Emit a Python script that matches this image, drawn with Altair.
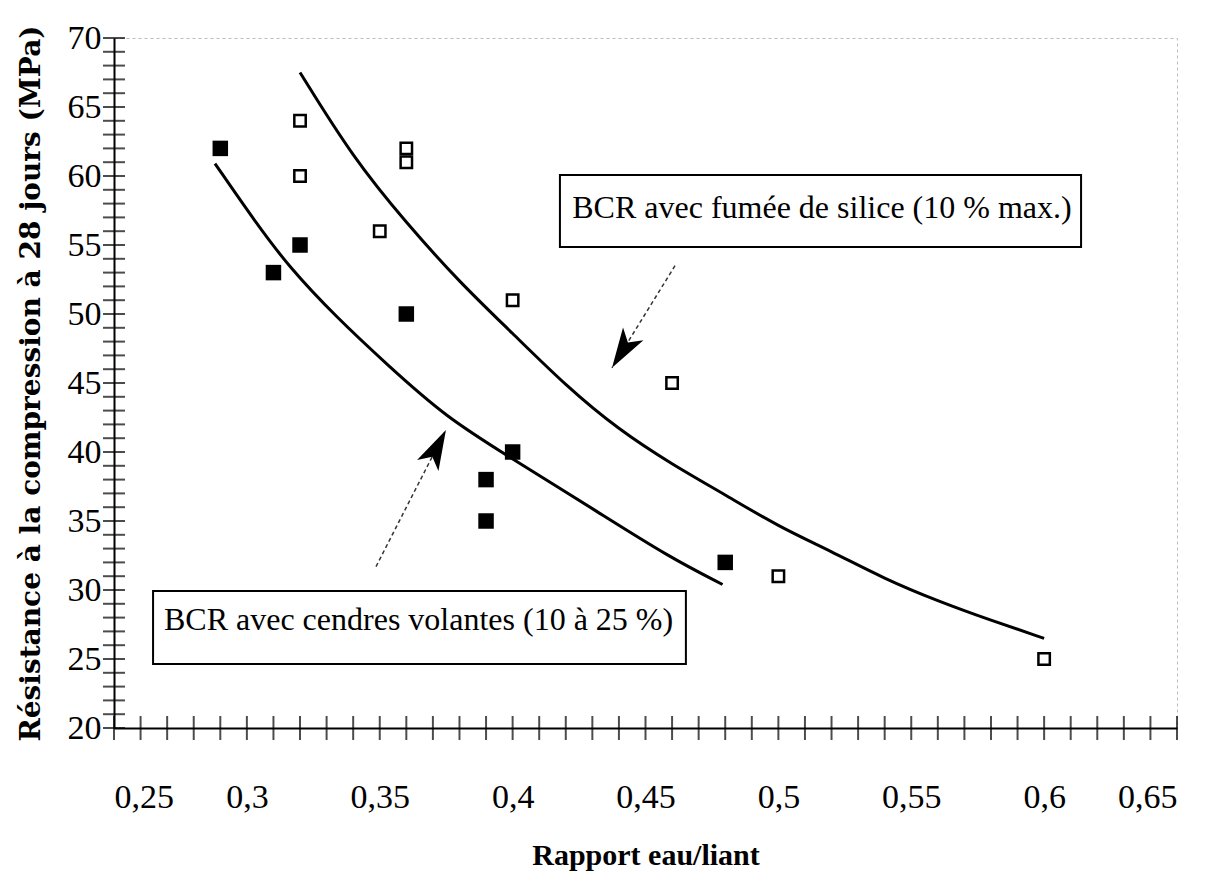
import altair as alt
import pandas as pd

# ---------------- data ----------------
# Filled squares : BCR avec cendres volantes
cv_x = [0.29, 0.31, 0.32, 0.36, 0.39, 0.39, 0.40, 0.48]
cv_y = [62, 53, 55, 50, 38, 35, 40, 32]

# Open squares : BCR avec fumée de silice
fs_x = [0.32, 0.32, 0.35, 0.36, 0.36, 0.36, 0.40, 0.46, 0.50, 0.60]
fs_y = [64, 60, 56, 62, 61, 50, 51, 45, 31, 25]

# Trend curve (fumée de silice)
fs_curve_x = [0.32, 0.34, 0.36, 0.38, 0.40, 0.42, 0.44, 0.46, 0.48, 0.50, 0.52, 0.54, 0.56, 0.58, 0.60]
fs_curve_y = [67.5, 61.3, 56.6, 52.3, 48.6, 44.8, 41.6, 39.1, 36.9, 34.6, 32.8, 30.8, 29.2, 27.8, 26.5]

# Trend curve (cendres volantes)
cv_curve_x = [0.288, 0.3034, 0.3159, 0.3335, 0.3524, 0.375, 0.40, 0.4325, 0.4588, 0.479]
cv_curve_y = [60.9, 56.6, 53.4, 49.8, 46.4, 42.5, 39.5, 35.6, 32.4, 30.4]

# Axis tick values / labels
x_major = [0.25, 0.30, 0.35, 0.40, 0.45, 0.50, 0.55, 0.60, 0.65]
x_minor = [round(0.25 + 0.01 * i, 2) for i in range(41)]
y_major = [20, 25, 30, 35, 40, 45, 50, 55, 60, 65, 70]
y_minor = list(range(20, 71))

# Annotation boxes (in data units)
box_labels = ["BCR avec fumée de silice (10 % max.)", "BCR avec cendres volantes (10 à 25 %)"]
box_x1 = [0.4178, 0.2647]
box_x2 = [0.6139, 0.4652]
box_y1 = [60.07, 29.93]
box_y2 = [54.86, 24.64]
box_tx = [0.5164, 0.3646]
box_ty = [57.68, 27.83]

# Arrows (dashed shaft start -> tip) and arrowhead angle
arrow_id = ["a1", "a2"]
arrow_x0 = [0.4611, 0.3486]
arrow_y0 = [53.5, 31.7]
arrow_x1 = [0.4374, 0.3749]
arrow_y1 = [46.1, 41.6]
arrow_angle = [212, 27]

FONT = "Liberation Serif"

xscale = alt.Scale(domain=[0.25, 0.65], nice=False, zero=False)
yscale = alt.Scale(domain=[20, 70], nice=False, zero=False)

label_expr = "replace(format(datum.value, '.2~f'), '.', ',')"

xaxis = alt.Axis(values=x_major, labelExpr=label_expr, ticks=False, grid=False,
                 domainColor="black", domainWidth=2,
                 labelFont=FONT, labelFontSize=34, labelColor="black", labelPadding=52,
                 title="Rapport eau/liant", titleFont=FONT, titleFontSize=30,
                 titleFontWeight="bold", titleColor="black", titlePadding=26)
yaxis = alt.Axis(values=y_major, ticks=False, grid=False,
                 domainColor="black", domainWidth=2,
                 labelFont=FONT, labelFontSize=34, labelColor="black", labelPadding=13,
                 title="Résistance à la compression à 28 jours (MPa)", titleFont="DejaVu Serif",
                 titleFontSize=28, titleFontWeight="bold", titleColor="black", titlePadding=22)

X = lambda f: alt.X(f, type="quantitative", scale=xscale, axis=xaxis)
Y = lambda f: alt.Y(f, type="quantitative", scale=yscale, axis=yaxis)

df_cv = pd.DataFrame({"x": cv_x, "y": cv_y})
df_fs = pd.DataFrame({"x": fs_x, "y": fs_y})
df_fsc = pd.DataFrame({"x": fs_curve_x, "y": fs_curve_y})
df_cvc = pd.DataFrame({"x": cv_curve_x, "y": cv_curve_y})
df_xt = pd.DataFrame({"x": x_minor})
df_yt = pd.DataFrame({"y": y_minor})
df_box = pd.DataFrame({"label": box_labels, "x1": box_x1, "x2": box_x2,
                       "y1": box_y1, "y2": box_y2, "tx": box_tx, "ty": box_ty})
df_arrow_line = pd.DataFrame({
    "id": arrow_id + arrow_id,
    "order": [0, 0, 1, 1],
    "x": arrow_x0 + arrow_x1,
    "y": arrow_y0 + arrow_y1,
})
df_head = pd.DataFrame({"x": arrow_x1, "y": arrow_y1, "angle": arrow_angle})

xticks = alt.Chart(df_xt).mark_tick(orient="vertical", size=24, thickness=2, color="black").encode(
    x=X("x"), y=alt.datum(20, scale=yscale))
yticks = alt.Chart(df_yt).mark_tick(orient="horizontal", size=22, thickness=2, color="black").encode(
    y=Y("y"), x=alt.datum(0.25, scale=xscale))

curve_fs = alt.Chart(df_fsc).mark_line(color="black", strokeWidth=3, interpolate="basis").encode(
    x=X("x"), y=Y("y"))
curve_cv = alt.Chart(df_cvc).mark_line(color="black", strokeWidth=3, interpolate="basis").encode(
    x=X("x"), y=Y("y"))

pts_fs = alt.Chart(df_fs).mark_point(shape="square", size=130, filled=False, color="black",
                                     strokeWidth=2.5, opacity=1).encode(x=X("x"), y=Y("y"))
pts_cv = alt.Chart(df_cv).mark_point(shape="square", size=240, filled=True, color="black",
                                     opacity=1).encode(x=X("x"), y=Y("y"))

boxes = alt.Chart(df_box).mark_rect(fill="white", stroke="black", strokeWidth=2).encode(
    x=X("x1"), x2="x2", y=Y("y1"), y2="y2")
box_text = alt.Chart(df_box).mark_text(font=FONT, fontSize=32, color="black", align="center",
                                       baseline="middle").encode(
    x=X("tx"), y=Y("ty"), text="label:N")

arrow_lines = alt.Chart(df_arrow_line).mark_line(color="#333333", strokeWidth=1.5,
                                                 strokeDash=[4, 3]).encode(
    x=X("x"), y=Y("y"), detail="id:N", order="order:Q")
heads = alt.Chart(df_head).mark_point(shape="M0,0 L0.6,2 L0,1.5 L-0.6,2 Z", size=1600,
                                      filled=True, color="black", opacity=1).encode(
    x=X("x"), y=Y("y"), angle=alt.Angle("angle:Q", scale=None))

chart = alt.layer(
    xticks, yticks, curve_fs, curve_cv, pts_fs, pts_cv,
    arrow_lines, heads, boxes, box_text
).properties(
    width=1063, height=690,
    autosize=alt.AutoSizeParams(type="none"),
    padding={"left": 106, "top": 30, "right": 30, "bottom": 150},
    background="white",
).configure_view(stroke="#bbbbbb", strokeWidth=1, strokeDash=[3, 3])

chart.save("out.html", embed_options={"renderer": "svg", "actions": False})
